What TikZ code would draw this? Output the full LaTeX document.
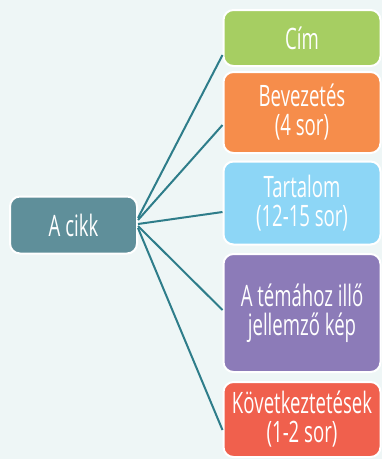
\documentclass[tikz,border=0pt]{standalone}
\usepackage{fontspec}
\setmainfont[FakeStretch=0.63]{Open Sans}
\definecolor{bg}{HTML}{EEF6F6}
\definecolor{linec}{HTML}{2E7D8A}
\definecolor{cmain}{HTML}{5F8F9A}
\definecolor{cgreen}{HTML}{A6CE62}
\definecolor{corange}{HTML}{F68D4B}
\definecolor{cblue}{HTML}{8DD6F6}
\definecolor{cpurple}{HTML}{8C7BB8}
\definecolor{cred}{HTML}{F0604D}
\tikzset{
  box/.style={draw=white, line width=2pt, rounded corners=10pt, text=white,
    font=\fontsize{29.5}{29}\selectfont, align=center, inner sep=0pt},
  conn/.style={draw=linec, line width=2pt}
}
\begin{document}
\begin{tikzpicture}[x=1pt,y=-1pt]
\fill[bg] (0,0) rectangle (382,459);
\useasboundingbox (0,0) rectangle (382,459);
\node[box, fill=cmain, minimum width=127pt, minimum height=57pt] (main) at (73.5,225) {A cikk};
\node[box, fill=cgreen, minimum width=157pt, minimum height=56pt] (b1) at (302,38) {Cím};
\node[box, fill=corange, minimum width=157pt, minimum height=81pt] (b2) at (302,112.5) {Bevezetés\\(4 sor)};
\node[box, fill=cblue, minimum width=157pt, minimum height=83pt] (b3) at (302,203) {Tartalom\\(12-15 sor)};
\node[box, fill=cpurple, minimum width=157pt, minimum height=118pt] (b4) at (302,313) {A témához illő\\jellemző kép};
\node[box, fill=cred, minimum width=157pt, minimum height=75pt] (b5) at (302,419.5) {Következtetések\\(1-2 sor)};
\coordinate (s1) at ([yshift=7pt]main.east);
\coordinate (s2) at ([yshift=5pt]main.east);
\coordinate (s3) at ([yshift=1pt]main.east);
\coordinate (s4) at ([yshift=-1pt]main.east);
\coordinate (s5) at ([yshift=-3pt]main.east);
\draw[conn] (s1) -- ([yshift=-17pt]b1.west);
\draw[conn] (s2) -- ([yshift=-12.5pt]b2.west);
\draw[conn] (s3) -- ([yshift=-9pt]b3.west);
\draw[conn] (s4) -- ([yshift=3pt]b4.west);
\draw[conn] (s5) -- ([yshift=-10.5pt]b5.west);
\end{tikzpicture}
\end{document}
